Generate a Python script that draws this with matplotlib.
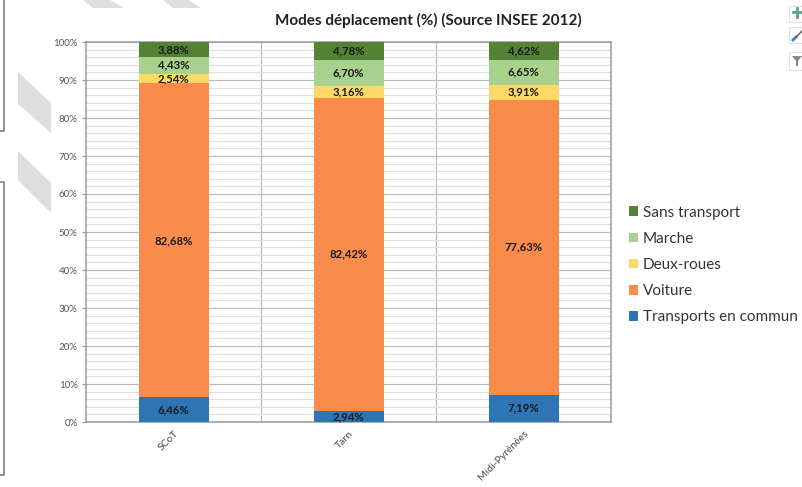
import matplotlib
matplotlib.use('Agg')
import matplotlib.pyplot as plt
from matplotlib.patches import Polygon, Rectangle

W, H = 802, 487

categories = ['SCoT', 'Tarn', 'Midi-Pyrénées']
transports = [6.46, 2.94, 7.19]
voiture = [82.68, 82.42, 77.63]
deux_roues = [2.54, 3.16, 3.91]
marche = [4.43, 6.70, 6.65]
sans_transport = [3.88, 4.78, 4.62]

series_names = ['Transports en commun', 'Voiture', 'Deux-roues', 'Marche', 'Sans transport']
series_values = [transports, voiture, deux_roues, marche, sans_transport]
colors = ['#2e75b6', '#f98c4c', '#ffd966', '#a9d18e', '#548235']

plt.rcParams['font.family'] = ['Lato', 'DejaVu Sans']

fig = plt.figure(figsize=(W / 100, H / 100), dpi=100)
ax = fig.add_axes([86 / W, 1 - 422 / H, (611 - 86) / W, (422 - 42) / H])


# pixel helper for the decoration around the chart (screenshot leftovers)
def px(x, y):
    return (x / W, 1 - y / H)


def fig_line(pts, color='#808080', lw=1.2):
    xs = [px(*p)[0] for p in pts]
    ys = [px(*p)[1] for p in pts]
    fig.add_artist(plt.Line2D(xs, ys, color=color, lw=lw, transform=fig.transFigure))


for pts in [[(83, 0), (110, 0), (124, 8), (93, 8)],
            [(163, 0), (188, 0), (201, 8), (173, 8)],
            [(18, 72), (51, 103), (51, 133), (18, 104)],
            [(18, 151), (51, 183), (51, 213), (18, 180)]]:
    fig.add_artist(Polygon([px(*p) for p in pts], closed=True, color='#dedede', lw=0,
                           transform=fig.transFigure, zorder=-5))
fig_line([(4, 0), (4, 131), (0, 131)])
fig_line([(0, 182), (4, 182), (4, 475), (0, 475)])

# stacked bars
x = range(len(categories))
bottom = [0, 0, 0]
handles = []
for name, vals, col in zip(series_names, series_values, colors):
    b = ax.bar(x, vals, width=0.4, bottom=bottom, color=col, label=name, zorder=3)
    handles.append(b)
    for i, v in enumerate(vals):
        ax.text(i, bottom[i] + v / 2, f'{v:.2f}%'.replace('.', ','), ha='center', va='center',
                fontsize=8.2, fontweight='bold', color='#1a1a1a', zorder=4)
    bottom = [s + v for s, v in zip(bottom, vals)]

ax.set_xlim(-0.5, 2.5)
ax.set_ylim(0, 100)
ax.set_yticks(range(0, 101, 10))
ax.set_yticklabels([f'{t}%' for t in range(0, 101, 10)], fontsize=7, color='#555555')
ax.set_yticks(range(0, 101, 2), minor=True)
ax.set_xticks([0.5, 1.5], minor=True)
ax.set_xticks(list(x))
ax.set_xticklabels(categories, rotation=45, ha='right', rotation_mode='anchor',
                   fontsize=7.5, color='#444444')

ax.grid(axis='y', which='major', color='#bdbdbd', lw=0.9, zorder=0)
ax.grid(axis='y', which='minor', color='#e0e0e0', lw=0.9, zorder=0)
ax.grid(axis='x', which='minor', color='#b5b5b5', lw=0.8, zorder=0)
ax.set_axisbelow(True)
ax.tick_params(axis='y', which='major', length=3, color='#999999', pad=3)
ax.tick_params(axis='y', which='minor', length=0)
ax.tick_params(axis='x', which='both', length=0, pad=5)
for s in ax.spines.values():
    s.set_color('#999999')
    s.set_linewidth(1.1)

fig.text(428 / W, 1 - 20 / H, 'Modes déplacement (%) (Source INSEE 2012)', fontsize=11,
         fontweight='bold', color='#222222', ha='center', va='center')

ax.legend(handles[::-1], series_names[::-1], loc='center left', bbox_to_anchor=(629 / W, 1 - 265 / H),
          bbox_transform=fig.transFigure, frameon=False, fontsize=11, labelcolor='#333333',
          handlelength=0.6, handleheight=0.6, handletextpad=0.3, labelspacing=0.8,
          borderpad=0, borderaxespad=0)

# chart buttons at top right
for y0, y1 in [(6, 22), (27, 43), (52, 70)]:
    fig.add_artist(Rectangle(px(789, y1), 20 / W, (y1 - y0) / H, transform=fig.transFigure,
                             fc='white', ec='#e2e2e2', lw=0.8))
fig_line([(793, 12), (802, 12)], color='#5aa77f', lw=2)
fig_line([(797, 8), (797, 17)], color='#5aa77f', lw=2)
fig_line([(793, 40), (796, 37)], color='#3f7fc4', lw=2)
fig_line([(796, 37), (802, 31)], color='#555555', lw=1)
fig.add_artist(Polygon([px(792, 56), px(802, 56), px(798, 61), px(798, 66), px(796, 66), px(796, 61)],
                       closed=True, color='#8a8a8a', lw=0, transform=fig.transFigure))

plt.savefig('out.png', dpi=100)
